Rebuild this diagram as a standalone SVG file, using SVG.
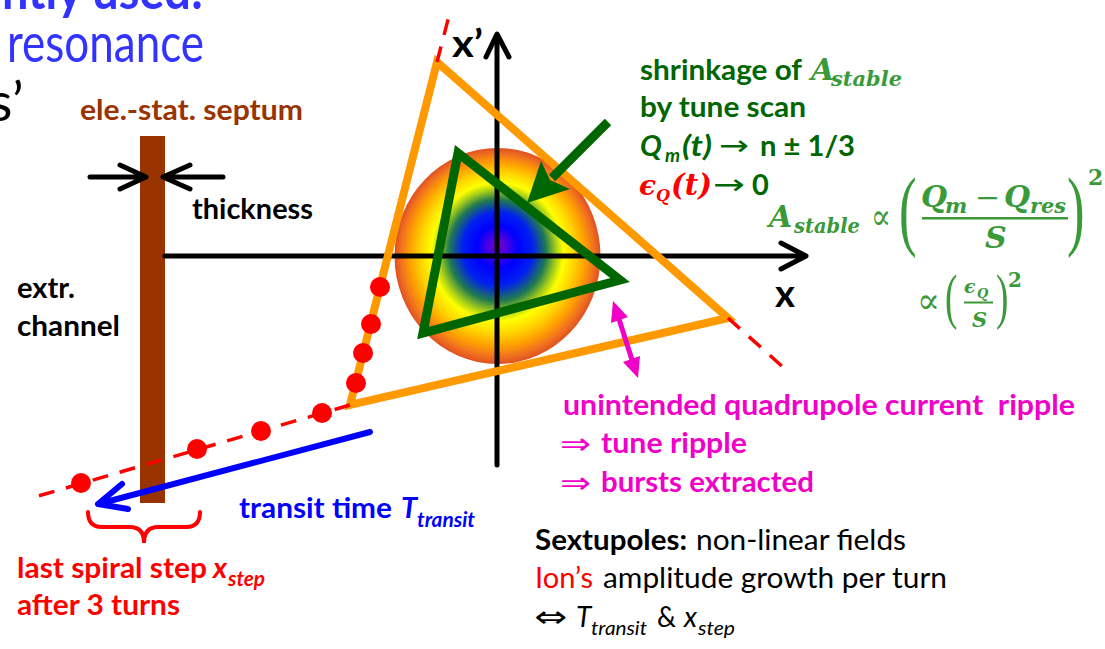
<svg xmlns="http://www.w3.org/2000/svg" width="1105" height="649" viewBox="0 0 1105 649">
<style>
.b{font-family:Lato,"DejaVu Sans",sans-serif;font-weight:700}
.r{font-family:Lato,"DejaVu Sans",sans-serif;font-weight:400}
.bi{font-family:Lato,"DejaVu Sans",sans-serif;font-weight:700;font-style:italic}
.ri{font-family:Lato,"DejaVu Sans",sans-serif;font-weight:400;font-style:italic}
.sym{font-family:"DejaVu Sans",sans-serif;font-weight:400}
.m{font-family:"DejaVu Serif",serif;font-weight:700;font-style:italic}
.mu{font-family:"DejaVu Serif",serif;font-weight:400}
.par{font-family:"Liberation Serif",serif;font-weight:400}
.ax{stroke:#000;stroke-width:5;fill:none;stroke-linecap:round;stroke-linejoin:round}
.dash{stroke:#ff0000;stroke-width:3.5;stroke-dasharray:16 12;fill:none}
.dot{fill:#ff0000}
.g{fill:#006600}
.lg{fill:#3a9a3a}
.mag{fill:#f000c8}
</style>
<defs>
<radialGradient id="beam" cx="0.5" cy="0.5" r="0.5" fx="0.5" fy="0.45">
<stop offset="0" stop-color="#8000b8"/>
<stop offset="0.08" stop-color="#5000e0"/>
<stop offset="0.2" stop-color="#0000ff"/>
<stop offset="0.34" stop-color="#0020f0"/>
<stop offset="0.47" stop-color="#207a50"/>
<stop offset="0.57" stop-color="#a8d018"/>
<stop offset="0.64" stop-color="#ffff00"/>
<stop offset="0.74" stop-color="#ffd800"/>
<stop offset="0.85" stop-color="#ffa000"/>
<stop offset="0.94" stop-color="#f07020"/>
<stop offset="1" stop-color="#e05020"/>
</radialGradient>
</defs>

<g id="background-text">
<text class="b" x="2" y="9" font-size="52" fill="#3333ff" textLength="201" lengthAdjust="spacingAndGlyphs">ntly used:</text>
<text class="r" x="7" y="62" font-size="54" fill="#3333ff" textLength="197" lengthAdjust="spacingAndGlyphs">resonance</text>
<text class="r" x="-11" y="121" font-size="54" fill="#000">s’</text>
</g>

<g id="septum">
<rect x="140" y="136" width="25" height="367" fill="#993300"/>
<text class="b" x="80" y="120" font-size="29" fill="#993300" textLength="223" lengthAdjust="spacingAndGlyphs">ele.-stat. septum</text>
</g>

<g id="thickness">
<path class="ax" d="M90,177 H146 M120,165 L146,177 L120,189"/>
<path class="ax" d="M223,177 H163 M190,165 L163,177 L190,189"/>
<text class="b" x="192" y="219" font-size="29" fill="#000" textLength="121" lengthAdjust="spacingAndGlyphs">thickness</text>
</g>

<g id="channel">
<text class="b" x="17" y="298" font-size="29" fill="#000" textLength="58" lengthAdjust="spacingAndGlyphs">extr.</text>
<text class="b" x="17" y="336" font-size="29" fill="#000" textLength="103" lengthAdjust="spacingAndGlyphs">channel</text>
</g>

<g id="beam">
<ellipse cx="497.5" cy="256" rx="103" ry="108" fill="url(#beam)"/>
</g>

<g id="axes">
<path class="ax" d="M165,256 H804"/>
<path class="ax" stroke-width="6" d="M781,243 L806,256 L781,269"/>
<path class="ax" d="M497,465 V36"/>
<path class="ax" stroke-width="6" d="M486,57 L497,34 L509,57"/>
<text class="b" x="452" y="57" font-size="38" fill="#000" textLength="31" lengthAdjust="spacingAndGlyphs">x’</text>
<text class="b" x="775" y="307" font-size="38" fill="#000" textLength="20" lengthAdjust="spacingAndGlyphs">x</text>
</g>

<g id="separatrix">
<polygon points="437,62 728,318 350,405" fill="none" stroke="#ff9900" stroke-width="8" stroke-linejoin="miter"/>
<path class="dash" d="M437,62 L450,12"/>
<path class="dash" d="M728,318 L784,368"/>
<path class="dash" d="M350,405 L28,499"/>
</g>

<g id="stable-triangle">
<polygon points="458,153 620,280 423,333" fill="none" stroke="#006600" stroke-width="9" stroke-linejoin="miter"/>
</g>

<g id="particles">
<circle class="dot" cx="380" cy="287" r="10"/>
<circle class="dot" cx="371" cy="324" r="10"/>
<circle class="dot" cx="363" cy="353" r="10"/>
<circle class="dot" cx="356" cy="383" r="10"/>
<circle class="dot" cx="322" cy="413" r="10"/>
<circle class="dot" cx="261" cy="431" r="10"/>
<circle class="dot" cx="197" cy="449" r="10"/>
<circle class="dot" cx="81" cy="483" r="10"/>
</g>

<g id="connectors">
<path d="M608,122 L552,178" stroke="#006600" stroke-width="9" fill="none"/>
<polygon points="527,203 541,161 550,180 570,189" fill="#006600"/>
<path d="M618,316 L633,363" stroke="#f000c8" stroke-width="5" fill="none"/>
<polygon points="613,301 628,317 611,323" fill="#f000c8"/>
<polygon points="638,378 623,362 640,356" fill="#f000c8"/>
<path d="M370,432 L102,503" stroke="#0000ff" stroke-width="6" fill="none" stroke-linecap="round"/>
<path d="M122,484 L98,504 L128,509" stroke="#0000ff" stroke-width="6" fill="none" stroke-linecap="round" stroke-linejoin="round"/>
<path d="M88,512 Q88,527 102,527 L130,527 Q144,527 144,543 Q144,527 158,527 L186,527 Q200,527 200,512" stroke="#ff0000" stroke-width="4" fill="none" stroke-linecap="round"/>
</g>

<g id="shrinkage-label">
<text class="b g" x="640" y="80" font-size="29" textLength="162" lengthAdjust="spacingAndGlyphs">shrinkage of</text>
<text class="m lg" x="811" y="80" font-size="30">A</text>
<text class="m lg" x="831" y="86" font-size="21" textLength="71" lengthAdjust="spacingAndGlyphs">stable</text>
<text class="b g" x="640" y="117" font-size="29" textLength="166" lengthAdjust="spacingAndGlyphs">by tune scan</text>
<text class="bi g" x="640" y="156" font-size="29">Q</text>
<text class="bi g" x="665" y="162" font-size="19">m</text>
<text class="bi g" x="682" y="156" font-size="29" textLength="30" lengthAdjust="spacingAndGlyphs">(t)</text>
<text class="sym g" x="719" y="155" font-size="28" textLength="30" lengthAdjust="spacingAndGlyphs">→</text>
<text class="b g" x="760" y="156" font-size="29" textLength="95" lengthAdjust="spacingAndGlyphs">n ± 1/3</text>
<text class="m" x="639" y="195" font-size="28" fill="#ff0000">ϵ</text>
<text class="m" x="656" y="201" font-size="16" fill="#ff0000">Q</text>
<text class="m" x="671" y="195" font-size="30" fill="#ff0000" textLength="41" lengthAdjust="spacingAndGlyphs">(t)</text>
<text class="sym g" x="713" y="194" font-size="28" textLength="32" lengthAdjust="spacingAndGlyphs">→</text>
<text class="b g" x="752" y="195" font-size="29">0</text>
</g>

<g id="formula">
<text class="m lg" x="769" y="227" font-size="30">A</text>
<text class="m lg" x="794" y="233" font-size="21" textLength="66" lengthAdjust="spacingAndGlyphs">stable</text>
<text class="mu lg" x="871" y="229" font-size="36" textLength="20" lengthAdjust="spacingAndGlyphs">∝</text>
<text class="par lg" font-size="88" transform="translate(899,239) scale(0.6,1)">(</text>
<text class="m lg" x="921" y="207" font-size="30">Q</text>
<text class="m lg" x="945" y="213" font-size="21">m</text>
<text class="mu lg" x="975" y="207" font-size="28" textLength="25" lengthAdjust="spacingAndGlyphs">−</text>
<text class="m lg" x="1004" y="207" font-size="30">Q</text>
<text class="m lg" x="1030" y="213" font-size="21" textLength="36" lengthAdjust="spacingAndGlyphs">res</text>
<rect x="922" y="217" width="146" height="2.5" fill="#3a9a3a"/>
<text class="m lg" x="985" y="248" font-size="30">S</text>
<text class="par lg" font-size="88" transform="translate(1067,239) scale(0.6,1)">)</text>
<text class="lg" x="1088" y="185" font-size="22" style="font-family:'DejaVu Serif',serif;font-weight:700">2</text>
<text class="mu lg" x="917" y="313" font-size="36" textLength="23" lengthAdjust="spacingAndGlyphs">∝</text>
<text class="par lg" font-size="62" transform="translate(945,317) scale(0.6,1)">(</text>
<text class="m lg" x="964" y="293" font-size="19">ϵ</text>
<text class="m lg" x="977" y="298" font-size="13">Q</text>
<rect x="964" y="301.5" width="29" height="2" fill="#3a9a3a"/>
<text class="m lg" x="972" y="327" font-size="21">S</text>
<text class="par lg" font-size="62" transform="translate(996,317) scale(0.6,1)">)</text>
<text class="lg" x="1008" y="287" font-size="20" style="font-family:'DejaVu Serif',serif;font-weight:700">2</text>
</g>

<g id="ripple-label">
<text class="b mag" x="563" y="415" font-size="29" xml:space="preserve" textLength="512" lengthAdjust="spacingAndGlyphs">unintended quadrupole current  ripple</text>
<text class="sym mag" x="560" y="454" font-size="30" textLength="31" lengthAdjust="spacingAndGlyphs">⇒</text>
<text class="b mag" x="601" y="453" font-size="29" textLength="146" lengthAdjust="spacingAndGlyphs">tune ripple</text>
<text class="sym mag" x="560" y="493" font-size="30" textLength="31" lengthAdjust="spacingAndGlyphs">⇒</text>
<text class="b mag" x="601" y="492" font-size="29" textLength="213" lengthAdjust="spacingAndGlyphs">bursts extracted</text>
</g>

<g id="transit-label">
<text class="b" x="239" y="518" font-size="29" fill="#0000ff" textLength="153" lengthAdjust="spacingAndGlyphs">transit time</text>
<text class="bi" x="401" y="518" font-size="29" fill="#0000ff">T</text>
<text class="bi" x="417" y="527" font-size="20" fill="#0000ff" textLength="58" lengthAdjust="spacingAndGlyphs">transit</text>
</g>

<g id="step-label">
<text class="b" x="17" y="578" font-size="29" fill="#ff0000" textLength="190" lengthAdjust="spacingAndGlyphs">last spiral step</text>
<text class="bi" x="213" y="578" font-size="29" fill="#ff0000">x</text>
<text class="bi" x="228" y="586" font-size="20" fill="#ff0000" textLength="37" lengthAdjust="spacingAndGlyphs">step</text>
<text class="b" x="17" y="615" font-size="29" fill="#ff0000" textLength="163" lengthAdjust="spacingAndGlyphs">after 3 turns</text>
</g>

<g id="sextupole-note">
<text class="b" x="535" y="550" font-size="28" fill="#000" textLength="152" lengthAdjust="spacingAndGlyphs">Sextupoles:</text>
<text class="r" x="696" y="550" font-size="28" fill="#000" textLength="210" lengthAdjust="spacingAndGlyphs">non-linear fields</text>
<text class="r" x="535" y="588" font-size="28" fill="#ff0000" textLength="58" lengthAdjust="spacingAndGlyphs">Ion’s</text>
<text class="r" x="603" y="588" font-size="28" fill="#000" textLength="344" lengthAdjust="spacingAndGlyphs">amplitude growth per turn</text>
<text class="sym" x="534" y="627" font-size="30" fill="#000" textLength="33" lengthAdjust="spacingAndGlyphs">⇔</text>
<text class="ri" x="576" y="627" font-size="28" fill="#000">T</text>
<text class="ri" x="591" y="635" font-size="20" fill="#000" textLength="56" lengthAdjust="spacingAndGlyphs">transit</text>
<text class="r" x="657" y="627" font-size="28" fill="#000" textLength="19" lengthAdjust="spacingAndGlyphs">&amp;</text>
<text class="ri" x="684" y="627" font-size="28" fill="#000">x</text>
<text class="ri" x="698" y="635" font-size="20" fill="#000" textLength="37" lengthAdjust="spacingAndGlyphs">step</text>
</g>
</svg>
